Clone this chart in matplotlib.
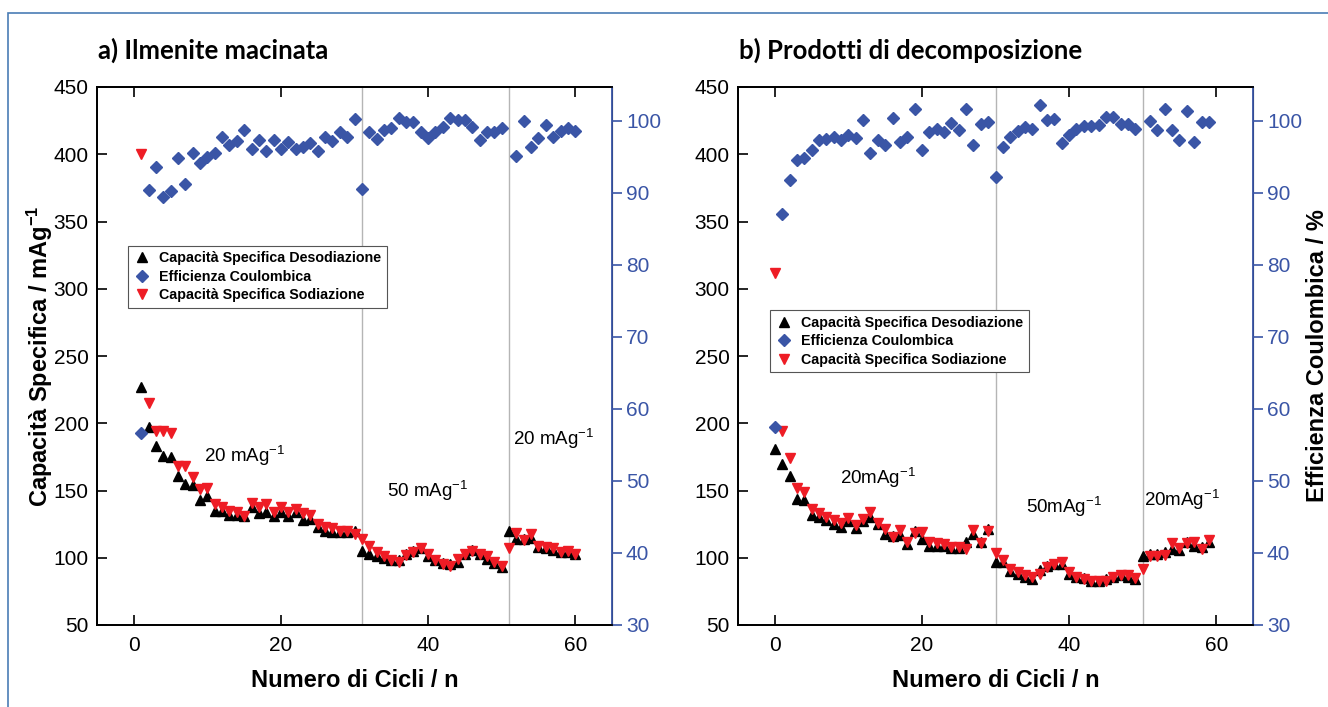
import numpy as np
import matplotlib
matplotlib.use('Agg')
import matplotlib.pyplot as plt
from matplotlib.patches import Rectangle

plt.rcParams['font.family'] = ['Liberation Sans', 'DejaVu Sans']
plt.rcParams['mathtext.default'] = 'regular'

# ---- data: a) Ilmenite macinata (cycles 1..60) ----
cicli_a = np.arange(1, 61)
deso_a = [227, 197, 183, 176, 175, 161, 155, 154, 143, 146,
          135, 135, 132, 132, 131, 138, 133, 134, 131, 134,
          131, 134, 128, 129, 123, 120, 119, 119, 119, 120,
          105, 103, 101, 99.5, 98, 98, 103, 105, 107, 101,
          98, 96, 95, 97, 103, 106, 103, 99, 96, 93,
          120, 114, 114, 115, 108, 107, 106, 104, 104, 103]
sodi_a = [400, 215, 194, 194, 193, 168, 168, 160, 151, 152,
          140, 138, 135, 134, 131, 141, 138, 140, 134, 138,
          134, 136, 133, 132, 125, 123, 122, 120, 120, 118,
          114, 109, 104, 101, 98, 97, 102, 104, 107, 102.5,
          98, 95, 94, 99, 103, 105, 103, 101, 97, 93.5,
          107, 118.5, 113, 118, 109, 108, 107.5, 104.5, 105, 103]
eff_a = [56.6, 90.4, 93.6, 89.4, 90.3, 94.9, 91.2, 95.6, 94.1, 95.0,
         95.5, 97.7, 96.7, 97.2, 98.7, 96.1, 97.4, 95.8, 97.4, 96.1,
         97.1, 96.1, 96.4, 96.9, 95.8, 97.7, 97.2, 98.4, 97.8, 100.3,
         90.5, 98.5, 97.5, 98.7, 99.0, 100.4, 99.8, 99.8, 98.4, 97.6,
         98.5, 99.2, 100.4, 100.1, 100.1, 99.2, 97.3, 98.5, 98.5, 99.0,
         np.nan, 95.1, 100.0, 96.3, 97.6, 99.4, 97.8, 98.6, 99.0, 98.6]

# ---- data: b) Prodotti di decomposizione (cycles 0..59) ----
cicli_b = np.arange(0, 60)
deso_b = [181, 170, 161, 144, 143, 132, 130, 128, 125, 123,
          127, 122, 127, 130, 125, 118, 116, 117, 110, 120,
          114, 109, 109, 108.5, 107.5, 107.5, 112, 118, 112, 121.5,
          97, 97, 90.5, 88, 86, 84.5, 91, 93.5, 95.5, 95.5,
          88, 85.5, 85, 83, 83, 84.5, 86, 87.5, 86, 84.5,
          101, 103, 103, 104, 106.5, 105.5, 111.5, 109, 108, 111.5]
sodi_b = [312, 194, 174, 151.5, 149, 136.5, 133, 130, 128, 126,
          129.5, 124.5, 128.5, 134, 125.5, 121.5, 115.5, 120.5, 112, 118.5,
          119, 111.5, 111, 110, 108, 108, 106.5, 121, 111, 120,
          103.5, 98.5, 92, 89.5, 87, 85.5, 88, 93, 95.5, 96.5,
          89.5, 85.5, 84.5, 83, 82.5, 82.5, 85.5, 87, 87, 85,
          92, 101, 101.5, 102, 111, 107.5, 111, 111.5, 106.5, 113]
eff_b = [57.5, 87.0, 91.8, 94.5, 94.9, 96.0, 97.4, 97.5, 97.7, 97.4,
         98.1, 97.6, 100.1, 95.6, 97.4, 96.7, 100.4, 97.0, 97.7, 101.6,
         96.0, 98.5, 98.8, 98.4, 99.7, 98.7, 101.7, 96.6, 99.5, 99.9,
         92.2, 96.4, 97.7, 98.6, 99.1, 98.8, 102.2, 100.1, 100.2, 96.9,
         98.0, 98.8, 99.3, 99.3, 99.4, 100.5, 100.6, 99.6, 99.5, 98.8,
         np.nan, 100.0, 98.7, 101.6, 98.7, 97.4, 101.4, 97.0, 99.8, 99.8]

cambi_a = [31, 51]
cambi_b = [30, 50]
titoli = ['a) Ilmenite macinata', 'b) Prodotti di decomposizione']
note_a = [(15, 176, '20 mAg$^{-1}$'), (40, 150, '50 mAg$^{-1}$'), (57, 188, '20 mAg$^{-1}$')]
note_b = [(14, 159, '20mAg$^{-1}$'), (39.3, 138, '50mAg$^{-1}$'), (55.4, 143, '20mAg$^{-1}$')]

BLU = '#3a55a6'
ROSSO = '#ee1c25'
W, H = 1328, 707

fig = plt.figure(figsize=(W / 100, H / 100), dpi=100)
fig.patches.append(Rectangle((8 / W, -0.1), 1.2, (H - 13) / H + 0.1, transform=fig.transFigure,
                             fill=False, edgecolor='#4a7db5', linewidth=1.2))

pannelli = [
    (97, cicli_a, deso_a, sodi_a, eff_a, cambi_a, note_a, titoli[0], 0.06, 0.705),
    (738, cicli_b, deso_b, sodi_b, eff_b, cambi_b, note_b, titoli[1], 0.062, 0.585),
]

for i, (x0, cic, deso, sodi, eff, cambi, note, titolo, lx, ly) in enumerate(pannelli):
    ax = fig.add_axes([x0 / W, (H - 625) / H, 515 / W, 538 / H])
    ax2 = ax.twinx()

    for c in cambi:
        ax.axvline(c, color='#b5b5b5', linewidth=1, zorder=0)

    h_eff, = ax2.plot(cic, eff, linestyle='none', marker='D', markersize=6.5,
                      color=BLU, label='Efficienza Coulombica', zorder=2)
    h_deso, = ax.plot(cic, deso, linestyle='none', marker='^', markersize=7.5,
                      color='black', label='Capacità Specifica Desodiazione', zorder=3)
    h_sodi, = ax.plot(cic, sodi, linestyle='none', marker='v', markersize=7.5,
                      color=ROSSO, label='Capacità Specifica Sodiazione', zorder=4)

    ax.set_xlim(-5, 65)
    ax.set_ylim(50, 450)
    ax2.set_ylim(30, 104.7)
    ax.set_xticks([0, 20, 40, 60])
    ax.set_yticks(range(50, 451, 50))
    ax2.set_yticks(range(30, 101, 10))

    ax.tick_params(axis='x', direction='in', top=True, length=7, width=1.2,
                   labelsize=15, pad=8)
    ax.tick_params(axis='y', direction='in', length=7, width=1.2, labelsize=15, pad=6)
    ax2.tick_params(axis='y', direction='out', length=7, width=1.2, colors=BLU,
                    labelsize=15, pad=3)
    for s in ['top', 'bottom', 'left']:
        ax.spines[s].set_linewidth(1.3)
        ax2.spines[s].set_linewidth(1.3)
    ax2.spines['right'].set_color(BLU)
    ax2.spines['right'].set_linewidth(1.3)

    for xx, yy, t in note:
        ax.text(xx, yy, t, fontsize=13.5, ha='center', va='center')

    ax.set_xlabel('Numero di Cicli / n', fontsize=17, fontweight='bold', labelpad=10)
    if i == 0:
        ax.set_ylabel('Capacità Specifica / mAg$^{-1}$', fontsize=17, fontweight='bold', labelpad=-1)
    else:
        ax2.set_ylabel('Efficienza Coulombica / %', fontsize=17, fontweight='bold', labelpad=3)

    fig.text((x0 + 1) / W, 1 - 50 / H, titolo, fontsize=18.5, fontweight='bold',
             family=['Lato', 'DejaVu Sans'], ha='left', va='center')

    leg = ax2.legend(handles=[h_deso, h_eff, h_sodi], loc='upper left',
                     bbox_to_anchor=(lx, ly), borderaxespad=0, fancybox=False,
                     edgecolor='#555555', framealpha=1, handletextpad=0.6,
                     handlelength=1.2, labelspacing=0.3,
                     prop={'size': 10.3, 'weight': 'bold'})
    leg.get_frame().set_linewidth(0.8)

fig.savefig('out.png', dpi=100)
